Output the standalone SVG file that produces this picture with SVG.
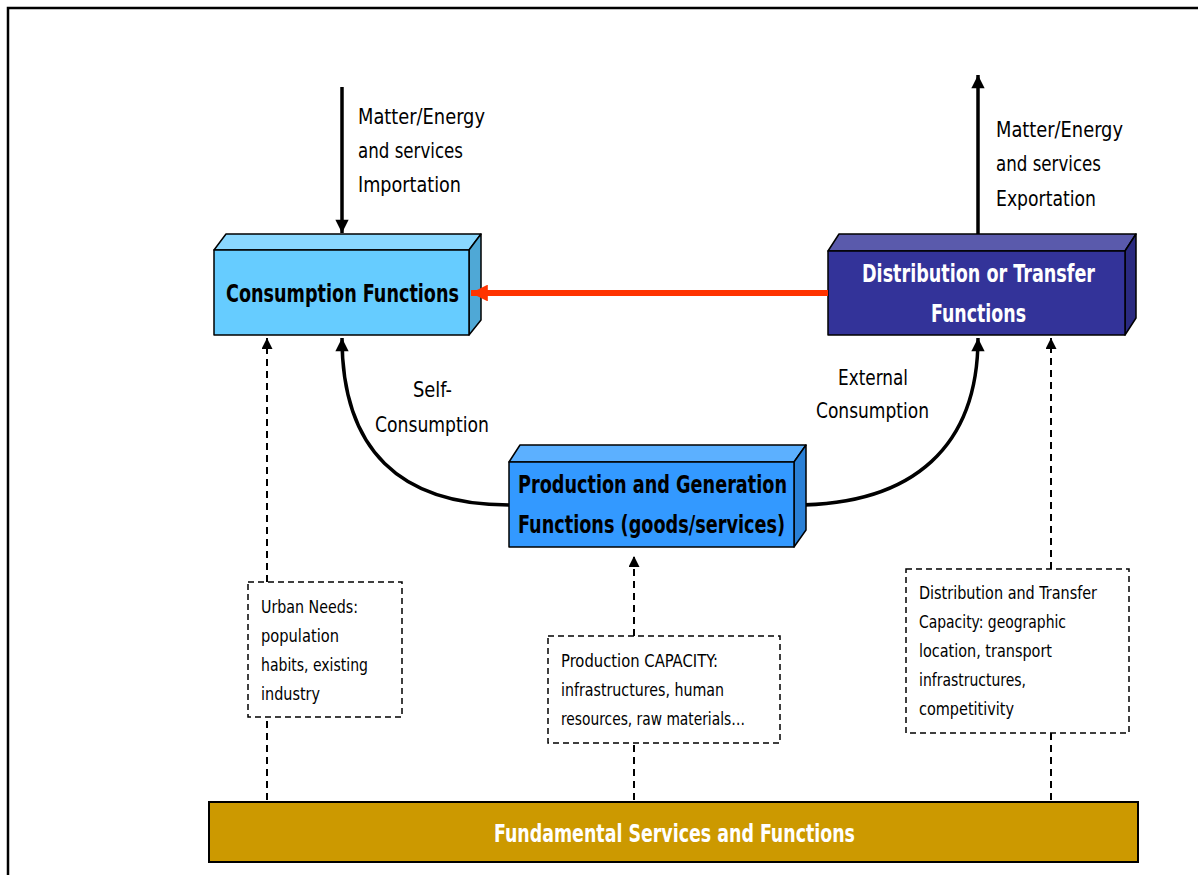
<svg xmlns="http://www.w3.org/2000/svg" width="1198" height="875" viewBox="0 0 1198 875">
<style>
text{font-family:"DejaVu Sans Condensed","Liberation Sans",sans-serif;}
.lbl{font-size:22px;fill:#000;}
.title{font-size:25px;font-weight:bold;}
.small{font-size:17px;fill:#000;}
.edge{stroke:#000;stroke-width:1.5;stroke-linejoin:round;}
.dash{fill:none;stroke:#000;stroke-width:2;stroke-dasharray:7,5;}
.dbox{fill:#fff;stroke:#000;stroke-width:1.5;stroke-dasharray:6,4;}
.solid{fill:none;stroke:#000;stroke-width:3.5;}
</style>
<defs>
<marker id="ah" viewBox="0 0 10 10" refX="10" refY="5" markerWidth="4.2" markerHeight="3.8" orient="auto" markerUnits="strokeWidth"><path d="M0,0L10,5L0,10z" fill="#000"/></marker>
<marker id="ahd" viewBox="0 0 10 10" refX="10" refY="5" markerWidth="6.5" markerHeight="5.5" orient="auto" markerUnits="strokeWidth"><path d="M0,0L10,5L0,10z" fill="#000"/></marker>
<marker id="ahr" viewBox="0 0 10 10" refX="10" refY="5" markerWidth="2.8" markerHeight="2.8" orient="auto" markerUnits="strokeWidth"><path d="M0,0L10,5L0,10z" fill="#FF3300"/></marker>
</defs>
<rect x="0" y="0" width="1198" height="875" fill="#fff"/>
<path d="M8,877V8H1200" fill="none" stroke="#000" stroke-width="2.5"/>

<g id="connectors">
<line x1="342" y1="87" x2="342" y2="233" class="solid" marker-end="url(#ah)"/>
<line x1="978" y1="234" x2="978" y2="75" class="solid" marker-end="url(#ah)"/>
<path d="M509,505 C400,505 342,450 342,338" class="solid" marker-end="url(#ah)"/>
<path d="M794,505 C915,505 978,445 978,338" class="solid" marker-end="url(#ah)"/>
<line x1="267" y1="800" x2="267" y2="717" class="dash"/>
<line x1="267" y1="582" x2="267" y2="338" class="dash" marker-end="url(#ahd)"/>
<line x1="634" y1="800" x2="634" y2="743" class="dash"/>
<line x1="634" y1="636" x2="634" y2="556" class="dash" marker-end="url(#ahd)"/>
<line x1="1051" y1="800" x2="1051" y2="733" class="dash"/>
<line x1="1051" y1="569" x2="1051" y2="338" class="dash" marker-end="url(#ahd)"/>
</g>

<g id="consumption">
<polygon points="214,250 226,234 481,234 469,250" fill="#8AD8FF" class="edge"/>
<polygon points="469,250 481,234 481,320 469,335" fill="#4FA8D6" class="edge"/>
<rect x="214" y="250" width="255" height="85" fill="#66CCFF" class="edge"/>
<text x="226" y="302" textLength="233" lengthAdjust="spacingAndGlyphs" class="title" fill="#000">Consumption Functions</text>
</g>

<g id="distribution">
<polygon points="828,251 839,234 1136,234 1125,251" fill="#5A5AAC" class="edge"/>
<polygon points="1125,251 1136,234 1136,318 1125,335" fill="#2A2A80" class="edge"/>
<rect x="828" y="251" width="297" height="84" fill="#333399" class="edge"/>
<text x="862" y="282" textLength="233" lengthAdjust="spacingAndGlyphs" class="title" fill="#fff">Distribution or Transfer</text>
<text x="931" y="322" textLength="95" lengthAdjust="spacingAndGlyphs" class="title" fill="#fff">Functions</text>
</g>

<g id="red-arrow">
<line x1="828" y1="293" x2="471" y2="293" stroke="#FF3300" stroke-width="6" marker-end="url(#ahr)"/>
</g>

<g id="production">
<polygon points="509,462 520,445 806,445 794,462" fill="#5CB0FF" class="edge"/>
<polygon points="794,462 806,445 806,530 794,547" fill="#2A80D6" class="edge"/>
<rect x="509" y="462" width="285" height="85" fill="#3399FF" class="edge"/>
<text x="518" y="493" textLength="269" lengthAdjust="spacingAndGlyphs" class="title" fill="#000">Production and Generation</text>
<text x="518" y="533" textLength="267" lengthAdjust="spacingAndGlyphs" class="title" fill="#000">Functions (goods/services)</text>
</g>

<g id="fundamental">
<rect x="209" y="802" width="929" height="60" fill="#CC9900" stroke="#000" stroke-width="2"/>
<text x="494" y="842" textLength="361" lengthAdjust="spacingAndGlyphs" class="title" fill="#fff">Fundamental Services and Functions</text>
</g>

<g id="urban-needs">
<rect x="248" y="582" width="154" height="135" class="dbox"/>
<text class="small" x="261" y="613" textLength="97" lengthAdjust="spacingAndGlyphs">Urban Needs:</text>
<text class="small" x="261" y="642" textLength="78" lengthAdjust="spacingAndGlyphs">population</text>
<text class="small" x="261" y="671" textLength="107" lengthAdjust="spacingAndGlyphs">habits, existing</text>
<text class="small" x="261" y="700" textLength="59" lengthAdjust="spacingAndGlyphs">industry</text>
</g>

<g id="production-capacity">
<rect x="548" y="636" width="232" height="107" class="dbox"/>
<text class="small" x="561" y="667" textLength="157" lengthAdjust="spacingAndGlyphs">Production CAPACITY:</text>
<text class="small" x="561" y="696" textLength="163" lengthAdjust="spacingAndGlyphs">infrastructures, human</text>
<text class="small" x="561" y="725" textLength="184" lengthAdjust="spacingAndGlyphs">resources, raw materials…</text>
</g>

<g id="distribution-capacity">
<rect x="906" y="569" width="223" height="164" class="dbox"/>
<text class="small" x="919" y="599" textLength="178" lengthAdjust="spacingAndGlyphs">Distribution and Transfer</text>
<text class="small" x="919" y="628" textLength="147" lengthAdjust="spacingAndGlyphs">Capacity: geographic</text>
<text class="small" x="919" y="657" textLength="133" lengthAdjust="spacingAndGlyphs">location, transport</text>
<text class="small" x="919" y="686" textLength="107" lengthAdjust="spacingAndGlyphs">infrastructures,</text>
<text class="small" x="919" y="715" textLength="95" lengthAdjust="spacingAndGlyphs">competitivity</text>
</g>

<g id="labels">
<text class="lbl" x="358" y="124" textLength="127" lengthAdjust="spacingAndGlyphs">Matter/Energy</text>
<text class="lbl" x="358" y="158" textLength="105" lengthAdjust="spacingAndGlyphs">and services</text>
<text class="lbl" x="358" y="192" textLength="103" lengthAdjust="spacingAndGlyphs">Importation</text>
<text class="lbl" x="996" y="137" textLength="127" lengthAdjust="spacingAndGlyphs">Matter/Energy</text>
<text class="lbl" x="996" y="171" textLength="105" lengthAdjust="spacingAndGlyphs">and services</text>
<text class="lbl" x="996" y="206" textLength="100" lengthAdjust="spacingAndGlyphs">Exportation</text>
<text class="lbl" x="413" y="397" textLength="39" lengthAdjust="spacingAndGlyphs">Self-</text>
<text class="lbl" x="375" y="432" textLength="114" lengthAdjust="spacingAndGlyphs">Consumption</text>
<text class="lbl" x="838" y="385" textLength="70" lengthAdjust="spacingAndGlyphs">External</text>
<text class="lbl" x="816" y="418" textLength="113" lengthAdjust="spacingAndGlyphs">Consumption</text>
</g>
</svg>
